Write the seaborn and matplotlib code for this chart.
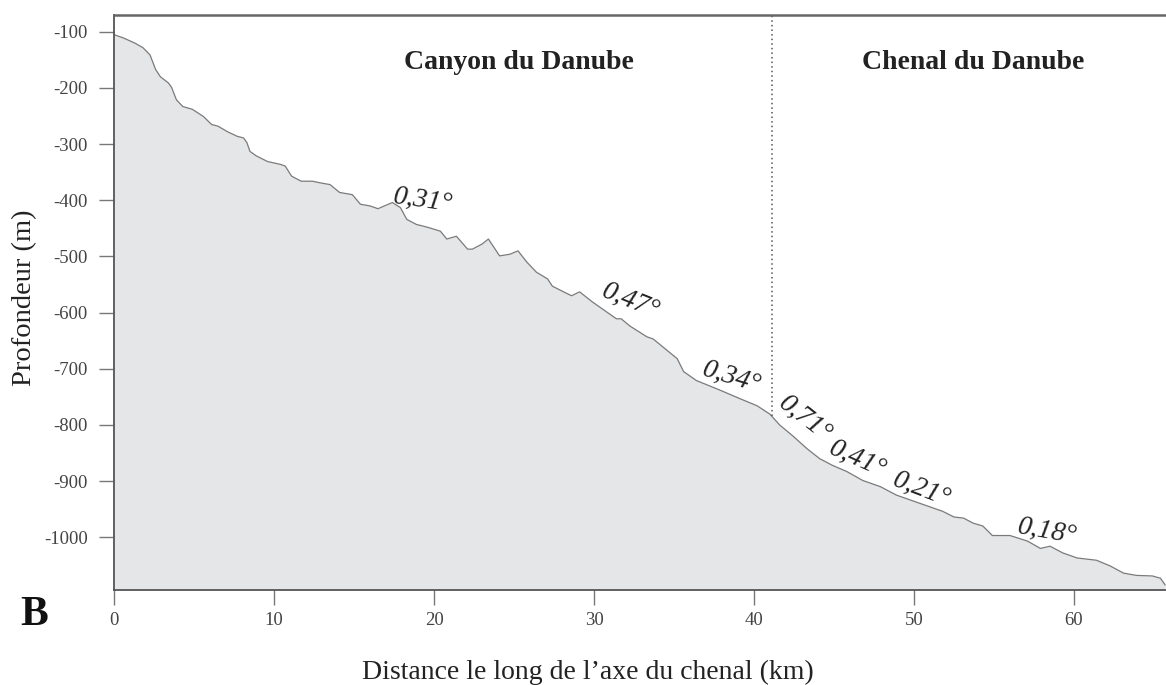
import matplotlib
matplotlib.use("Agg")
import numpy as np
import pandas as pd
import matplotlib.pyplot as plt
import seaborn as sns

# Bathymetric profile along the channel axis
distance_km = [0.0, 0.6, 1.3, 1.8, 2.25, 2.6, 2.9, 3.4, 3.6, 3.9, 4.3, 4.9, 5.6, 6.1,
               6.5, 7.1, 7.7, 8.1, 8.3, 8.5, 8.9, 9.6, 10.4, 10.7, 11.1, 11.7, 12.4,
               12.9, 13.5, 14.1, 14.9, 15.4, 16.0, 16.5, 16.9, 17.4, 17.9, 18.3, 18.9,
               19.6, 20.4, 20.8, 21.4, 22.1, 22.4, 23.0, 23.4, 24.1, 24.75, 25.25, 25.8,
               26.4, 27.1, 27.4, 28.1, 28.6, 29.1, 29.9, 30.8, 31.4, 31.7, 32.25, 33.3,
               33.7, 34.3, 35.2, 35.6, 36.4, 37.7, 39.1, 40.2, 41.0, 41.6, 42.4, 43.3,
               44.1, 44.9, 45.8, 46.8, 47.9, 48.9, 50.4, 51.8, 52.5, 53.1, 53.7, 54.3,
               54.9, 56.0, 57.1, 57.9, 58.5, 59.3, 60.2, 61.4, 62.25, 63.1, 63.9, 64.9,
               65.4, 65.7]
depth_m = [-105, -111, -120, -128, -141, -167, -180, -191, -199, -221, -233, -238, -251, -265,
           -268, -278, -286, -289, -297, -313, -321, -331, -336, -339, -357, -366, -366,
           -369, -372, -386, -390, -407, -410, -415, -410, -404, -413, -434, -443,
           -448, -455, -469, -464, -487, -487, -478, -469, -499, -496, -490, -510,
           -528, -540, -553, -563, -570, -563, -581, -599, -611, -611, -624, -643,
           -647, -661, -682, -705, -721, -736, -753, -766, -781, -800, -819, -842,
           -860, -872, -883, -899, -910, -925, -940, -954, -964, -966, -975, -980,
           -997, -997, -1007, -1020, -1016, -1028, -1037, -1041, -1051, -1064, -1068, -1069,
           -1073, -1085]

# Slope values written along the profile
slope_labels = ["0,31°", "0,47°", "0,34°", "0,71°", "0,41°", "0,21°", "0,18°"]
slope_x = [19.3, 32.3, 38.6, 43.2, 46.5, 50.5, 58.3]
slope_y = [-400, -580, -716, -790, -861, -915, -991]
slope_rot = [-8, -22, -17, -38, -24, -21, -10]

section_names = ["Canyon du Danube", "Chenal du Danube"]
section_x = [25.3, 53.7]
section_y = -166
boundary_km = 41.1

x_ticks = [0, 10, 20, 30, 40, 50, 60]
y_ticks = [-100, -200, -300, -400, -500, -600, -700, -800, -900, -1000]
x_limits = (0, 65.75)
y_limits = (-1094, -70)

sns.set_style("ticks")
plt.rcParams["font.family"] = ["Liberation Serif", "DejaVu Serif"]

fig = plt.figure(figsize=(11.66, 6.85), dpi=100)
W, H = 1166, 685
ax = fig.add_axes([114 / W, 1 - 590 / H, 1 - 114 / W, (590 - 15) / H])

profile = pd.DataFrame({"distance": distance_km, "depth": depth_m})
ax.fill_between(profile["distance"], profile["depth"], y_limits[0],
                color="#e5e6e8", lw=0, zorder=1)
sns.lineplot(data=profile, x="distance", y="depth", ax=ax, color="#7a7a7a",
             lw=0.9, sort=False, zorder=2)

# Boundary between the canyon and the channel
boundary_depth = np.interp(boundary_km, distance_km, depth_m)
ax.plot([boundary_km, boundary_km], [boundary_depth, y_limits[1]],
        ls=(0, (1, 2)), color="#555555", lw=1.1, zorder=2)

for name, sx in zip(section_names, section_x):
    ax.text(sx, section_y, name, ha="center", va="baseline", fontsize=20,
            fontweight="bold", color="#222222")

for lab, sx, sy, rot in zip(slope_labels, slope_x, slope_y, slope_rot):
    ax.text(sx, sy, lab, ha="center", va="center", rotation=rot,
            rotation_mode="anchor", fontsize=20, fontstyle="italic",
            color="#222222", zorder=3)

ax.set_xlim(*x_limits)
ax.set_ylim(*y_limits)
ax.set_xticks(x_ticks)
ax.set_yticks(y_ticks)
ax.set_xticklabels([str(t) for t in x_ticks])
ax.set_yticklabels([str(t) for t in y_ticks])
ax.tick_params(axis="both", direction="out", length=11, width=1, color="#777777",
               labelcolor="#444444", labelsize=13.5)
ax.tick_params(axis="y", pad=8)
ax.tick_params(axis="x", pad=5)

for side in ["left", "bottom", "top"]:
    ax.spines[side].set_color("#555555")
    ax.spines[side].set_linewidth(1.3)
ax.spines["top"].set_linewidth(1.8)
ax.spines["top"].set_color("#666666")
ax.spines["right"].set_visible(False)

ax.set_xlabel("Distance le long de l\u2019axe du chenal (km)", fontsize=20, color="#222222")
ax.xaxis.set_label_coords((588 - 114) / 1052, (590 - 660) / 575)
ax.set_ylabel("Profondeur (m)", fontsize=20.5, color="#222222")
ax.yaxis.set_label_coords((25 - 114) / 1052, (590 - 298) / 575)
ax.yaxis.label.set_va("center")

fig.text(20 / W, 1 - 625 / H, "B", fontsize=30, fontweight="bold", ha="left",
         va="baseline", color="#111111")

fig.savefig("out.png", dpi=100)
